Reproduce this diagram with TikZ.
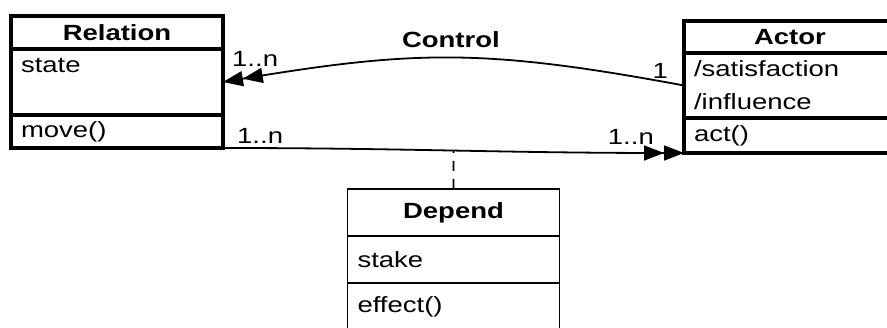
\documentclass[tikz,border=0pt]{standalone}
\usepackage{fontspec}
\setmainfont{Liberation Sans}[FakeStretch=1.25]
\usetikzlibrary{
  positioning,
  arrows.meta
}
\newcommand\umlsize{\fontsize{22}{33}\selectfont}

\begin{document}
\begin{tikzpicture}[
  x=1pt, y=1pt,
  part/.style={draw, outer sep=0pt, minimum width=212pt, inner xsep=10pt,
    inner ysep=3pt, text width=192pt, font=\umlsize},
  head/.style={part, align=center, font=\umlsize\bfseries},
  body/.style={part, align=left},
  heavy/.style={line width=3.2pt},
  light/.style={line width=1.6pt},
  mult/.style={font=\umlsize, inner sep=0pt},
  assoc/.style={line width=1.8pt,
    -{Triangle[length=20pt,width=15pt]Triangle[length=20pt,width=15pt]}},
  ]
  \useasboundingbox (0,0) rectangle (887,327);

  \node[head, heavy, minimum height=33pt] (rel) at (117,294.5) {Relation};
  \node[body, heavy, minimum height=66pt, below=0pt of rel] (rel-attr) {state\\\mbox{}};
  \node[body, heavy, minimum height=33pt, below=0pt of rel-attr] (rel-ops) {move()};

  \node[head, heavy, minimum height=32pt] (act) at (790,290) {Actor};
  \node[body, heavy, minimum height=65pt, below=0pt of act] (act-attr) {/satisfaction\\/influence};
  \node[body, heavy, minimum height=35pt, below=0pt of act-attr] (act-ops) {act()};

  \node[head, light, minimum height=47pt] (dep) at (453.5,114.5) {Depend};
  \node[body, light, minimum height=47pt, below=0pt of dep] (dep-attr) {stake};
  \node[body, light, minimum height=47pt, below=0pt of dep-attr] (dep-ops) {effect()};

  \draw[assoc] (act-attr.west) .. controls +(-199,37) and +(192,32) .. (rel-attr.east)
    node[pos=.5, anchor=base, yshift=10pt, font=\umlsize\bfseries] (ctl) {Control};
  \draw[assoc] (rel-ops.south east) to[out=0, in=180] coordinate[pos=.5] (mid) (act-ops.south west);
  \draw[line width=1.6pt, dash pattern=on 10pt off 8pt] (dep.north) -- (mid);

  \node[mult, anchor=base west] (m-rel-top) at ([shift={(9,15)}]rel-attr.east) {1..n};
  \node[mult, anchor=base east] (m-act-top) at ([shift={(-16,7)}]act-attr.west) {1};
  \node[mult, anchor=base west] (m-rel-bot) at ([shift={(14,4)}]rel-ops.south east) {1..n};
  \node[mult, anchor=base east] (m-act-bot) at ([shift={(-30,8)}]act-ops.south west) {1..n};
\end{tikzpicture}
\end{document}
